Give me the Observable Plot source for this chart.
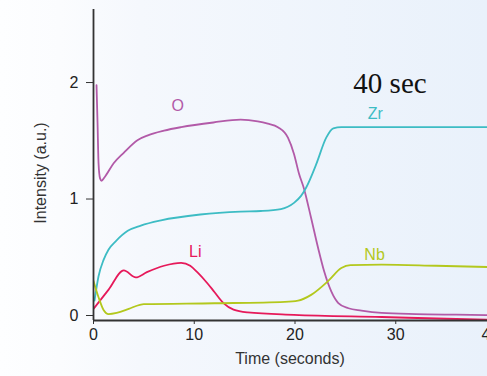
<!DOCTYPE html>
<html>
<head>
<meta charset="utf-8">
<script src="https://cdn.jsdelivr.net/npm/d3@7"></script>
<script src="https://cdn.jsdelivr.net/npm/@observablehq/plot@0.6"></script>
<style>
  html, body { margin: 0; padding: 0; width: 487px; height: 376px; overflow: hidden; }
  body { background: linear-gradient(90deg, #fdfeff 0px, #fbfcfe 60px, #f5f8fd 140px, #e9f1fb 487px); font-family: "Liberation Sans", Arial, Helvetica, sans-serif; }
  #chart { width: 520px; height: 376px; }
  #chart svg { display: block; max-width: none !important; width: 520px !important; height: 376px !important; }
</style>
</head>
<body>
<div id="chart"></div>
<script>
// ---- data ----
const oTime = [0.3, 0.4, 0.5, 0.65, 0.8, 1.1, 2.0, 3.0, 4.4, 5.4, 7.0, 8.7, 11.9, 14.6, 16.3, 17.3, 18.3, 19.3, 19.9, 20.4, 20.9, 21.6, 22.3, 22.9, 23.6, 24.3, 25.3, 26.6, 28.6, 32, 36, 41];
const oVal  = [2.02, 1.70, 1.35, 1.22, 1.20, 1.23, 1.35, 1.44, 1.55, 1.59, 1.63, 1.66, 1.70, 1.725, 1.71, 1.69, 1.66, 1.57, 1.43, 1.26, 1.13, 0.88, 0.62, 0.42, 0.25, 0.15, 0.105, 0.085, 0.065, 0.055, 0.05, 0.045];

const zrTime = [0.1, 0.5, 1.0, 1.5, 2.2, 3.4, 4.7, 6.7, 10.6, 14.6, 16.6, 18.6, 19.9, 20.6, 21.1, 22.1, 23.1, 23.8, 24.6, 30, 41];
const zrVal  = [0.17, 0.38, 0.52, 0.61, 0.68, 0.77, 0.815, 0.86, 0.91, 0.935, 0.94, 0.957, 1.01, 1.07, 1.14, 1.34, 1.57, 1.65, 1.66, 1.66, 1.66];

const liTime = [0, 1.5, 3.0, 4.2, 5.3, 7.0, 8.7, 9.6, 10.3, 11.3, 12.0, 12.9, 13.9, 15.3, 19.9, 28.6, 35, 41];
const liVal  = [0.10, 0.265, 0.43, 0.37, 0.415, 0.47, 0.495, 0.47, 0.415, 0.32, 0.245, 0.15, 0.094, 0.07, 0.049, 0.03, 0.015, 0.005];

const nbTime = [0, 0.5, 1.0, 1.5, 2.3, 3.5, 4.6, 5.0, 12, 19, 20.3, 21.6, 23.3, 24.6, 25.5, 28.6, 34, 41];
const nbVal  = [0.34, 0.20, 0.09, 0.055, 0.065, 0.10, 0.135, 0.14, 0.148, 0.16, 0.17, 0.22, 0.34, 0.45, 0.475, 0.48, 0.47, 0.455];

const seriesNames  = ["O", "Zr", "Li", "Nb"];
const seriesColors = ["#b25aa8", "#3dbcc4", "#e6195a", "#b3c81d"];
const labelTime = [8.36, 27.96, 10.1, 27.9];
const labelVal  = [1.84, 1.77, 0.59, 0.56];

const xTicks = [0, 10, 20, 30];
const xLastTick = [40];
const yTicks = [0, 1, 2];

// ---- build table ----
const series = [[oTime, oVal], [zrTime, zrVal], [liTime, liVal], [nbTime, nbVal]];
const rows = [];
series.forEach(([ts, vs], i) => ts.forEach((t, j) => rows.push({series: seriesNames[i], t, v: vs[j]})));
const labels = seriesNames.map((s, i) => ({series: s, t: labelTime[i], v: labelVal[i]}));

const W = 520, H = 376;
const chart = Plot.plot({
  width: W,
  height: H,
  marginLeft: 93,
  marginRight: 24,
  marginTop: 9,
  marginBottom: 56,
  style: {background: "transparent", fontFamily: "'Liberation Sans', Arial, Helvetica, sans-serif", fontSize: "16px", color: "#222", maxWidth: "none"},
  x: {domain: [0, 40]},
  y: {domain: [0, 2.67]},
  color: {domain: seriesNames, range: seriesColors},
  marks: [
    Plot.axisX({ticks: xTicks, tickFormat: d => String(d), tickSize: 4, tickPadding: 4, label: null, fontSize: 16, stroke: "#333", fill: "#222"}),
    Plot.axisX({ticks: xLastTick, tickFormat: d => String(d), tickSize: 4, tickPadding: 4, label: null, fontSize: 16, dx: -6, stroke: "#333", fill: "#222"}),
    Plot.axisY({ticks: yTicks, tickFormat: d => String(d), tickSize: 7, tickPadding: 8, label: null, fontSize: 16, dy: -5, stroke: "#333", fill: "#222"}),
    Plot.line(rows, {x: "t", y: "v", z: "series", stroke: "series", strokeWidth: 1.8, curve: "monotone-x", clip: true}),
    Plot.ruleX([0], {stroke: "#333", strokeWidth: 1.8}),
    Plot.ruleY([0], {stroke: "#333", strokeWidth: 1.8}),
    Plot.text(labels, {x: "t", y: "v", text: "series", fill: "series", fontSize: 16})
  ]
});

const svg = d3.select(chart);
svg.append("text")
  .attr("transform", "translate(40,173) rotate(-90)")
  .attr("text-anchor", "middle")
  .attr("dominant-baseline", "central")
  .attr("font-size", 16)
  .attr("fill", "#333")
  .text("Intensity (a.u.)");
svg.append("text")
  .attr("x", 290)
  .attr("y", 358)
  .attr("text-anchor", "middle")
  .attr("dominant-baseline", "central")
  .attr("font-size", 16)
  .attr("fill", "#333")
  .text("Time (seconds)");
svg.append("text")
  .attr("x", 390)
  .attr("y", 93)
  .attr("text-anchor", "middle")
  .attr("font-family", "'Liberation Serif', 'Times New Roman', serif")
  .attr("font-size", 29)
  .attr("fill", "#111")
  .text("40 sec");

document.getElementById("chart").appendChild(chart);
</script>
</body>
</html>
